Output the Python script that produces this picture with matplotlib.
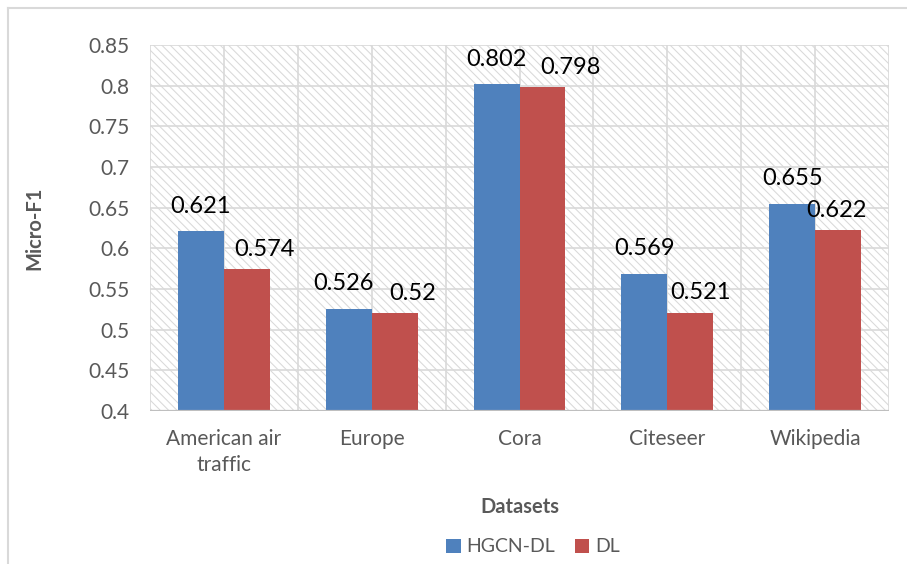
import matplotlib
matplotlib.use("Agg")
import matplotlib.pyplot as plt
import numpy as np
from matplotlib.patches import Rectangle
from matplotlib.lines import Line2D

categories = ["American air\ntraffic", "Europe", "Cora", "Citeseer", "Wikipedia"]
hgcn_dl = [0.621, 0.526, 0.802, 0.569, 0.655]
dl = [0.574, 0.520, 0.798, 0.521, 0.622]
series_names = ["HGCN-DL", "DL"]
yticks = [0.4, 0.45, 0.5, 0.55, 0.6, 0.65, 0.7, 0.75, 0.8, 0.85]
ytick_labels = ["0.4", "0.45", "0.5", "0.55", "0.6", "0.65", "0.7", "0.75", "0.8", "0.85"]

# label layout nudges (pixels) for the data labels, as placed in the original
dl_label_dx = [18, 18, 28, 10, -2]
hg_label_dx = [0, -5, 0, 0, 0]

plt.rcParams['font.family'] = ['Lato', 'DejaVu Sans']
plt.rcParams['hatch.linewidth'] = 0.75

W, H = 907, 564
fig = plt.figure(figsize=(W/100, H/100), dpi=100)
ax = fig.add_axes([150/W, 1-411/H, (889-150)/W, (411-45)/H])

x = np.arange(len(categories))
bw = 0.31
blue = "#4F81BD"
red = "#C0504D"
grid_c = "#d9d9d9"
text_c = "#595959"

# hatched background
bg = Rectangle((0, 0), 1, 1, transform=ax.transAxes, facecolor="white",
               edgecolor="#d9d9d9", hatch="\\\\\\\\", linewidth=0, zorder=0)
ax.add_patch(bg)

ax.set_xlim(-0.5, len(categories) - 0.5)
ax.set_ylim(0.4, 0.85)

for yv in yticks:
    ax.axhline(yv, color=grid_c, lw=1.2, zorder=1)
for xv in np.arange(-0.5, len(categories), 0.5):
    ax.axvline(xv, color=grid_c, lw=1.2, zorder=1)

b1 = ax.bar(x - bw/2, hgcn_dl, bw, color=blue, zorder=2, label=series_names[0])
b2 = ax.bar(x + bw/2, dl, bw, color=red, zorder=2, label=series_names[1])

px = 72 / 100.0  # points per pixel
for xi, v, dx in zip(x, hgcn_dl, hg_label_dx):
    ax.annotate(f"{v:g}", (xi - bw/2, v), xytext=(dx*px, 25*px), textcoords="offset points",
                ha="center", va="center", fontsize=17, color="black", zorder=5)
for xi, v, dx in zip(x, dl, dl_label_dx):
    ax.annotate(f"{v:g}", (xi + bw/2, v), xytext=(dx*px, 20*px), textcoords="offset points",
                ha="center", va="center", fontsize=17, color="black", zorder=5)

ax.axhline(0.4, color="#bfbfbf", lw=1.6, zorder=4)

for s in ax.spines.values():
    s.set_visible(False)

ax.set_yticks(yticks)
ax.set_yticklabels(ytick_labels, fontsize=15, color=text_c)
ax.set_xticks(x)
ax.set_xticklabels(categories, fontsize=15, color=text_c, linespacing=1.4)
ax.tick_params(axis="both", length=0)
ax.tick_params(axis="y", pad=15)
ax.tick_params(axis="x", pad=13)

ax.set_ylabel("Micro-F1", fontsize=14.5, fontweight="bold", color=text_c)
ax.yaxis.set_label_coords((34-150)/739, 0.5)
ax.set_xlabel("Datasets", fontsize=14.5, fontweight="bold", color=text_c)
ax.xaxis.set_label_coords(0.5, (411-507)/366)
ax.xaxis.label.set_va("center")
ax.yaxis.label.set_va("center")

leg = fig.legend(handles=[b1, b2], labels=series_names, loc="center",
                 bbox_to_anchor=(533/W, 1-547/H), ncol=2, frameon=False,
                 fontsize=14, handlelength=0.75, handleheight=0.75,
                 handletextpad=0.3, columnspacing=1.0)
for t in leg.get_texts():
    t.set_color(text_c)

# outer frame
fig.add_artist(Line2D([8/W, 8/W], [0, 1-8/H], transform=fig.transFigure, color="#d9d9d9", lw=1.5))
fig.add_artist(Line2D([8/W, 1], [1-8/H, 1-8/H], transform=fig.transFigure, color="#d9d9d9", lw=1.5))

fig.savefig("out.png", dpi=100)
